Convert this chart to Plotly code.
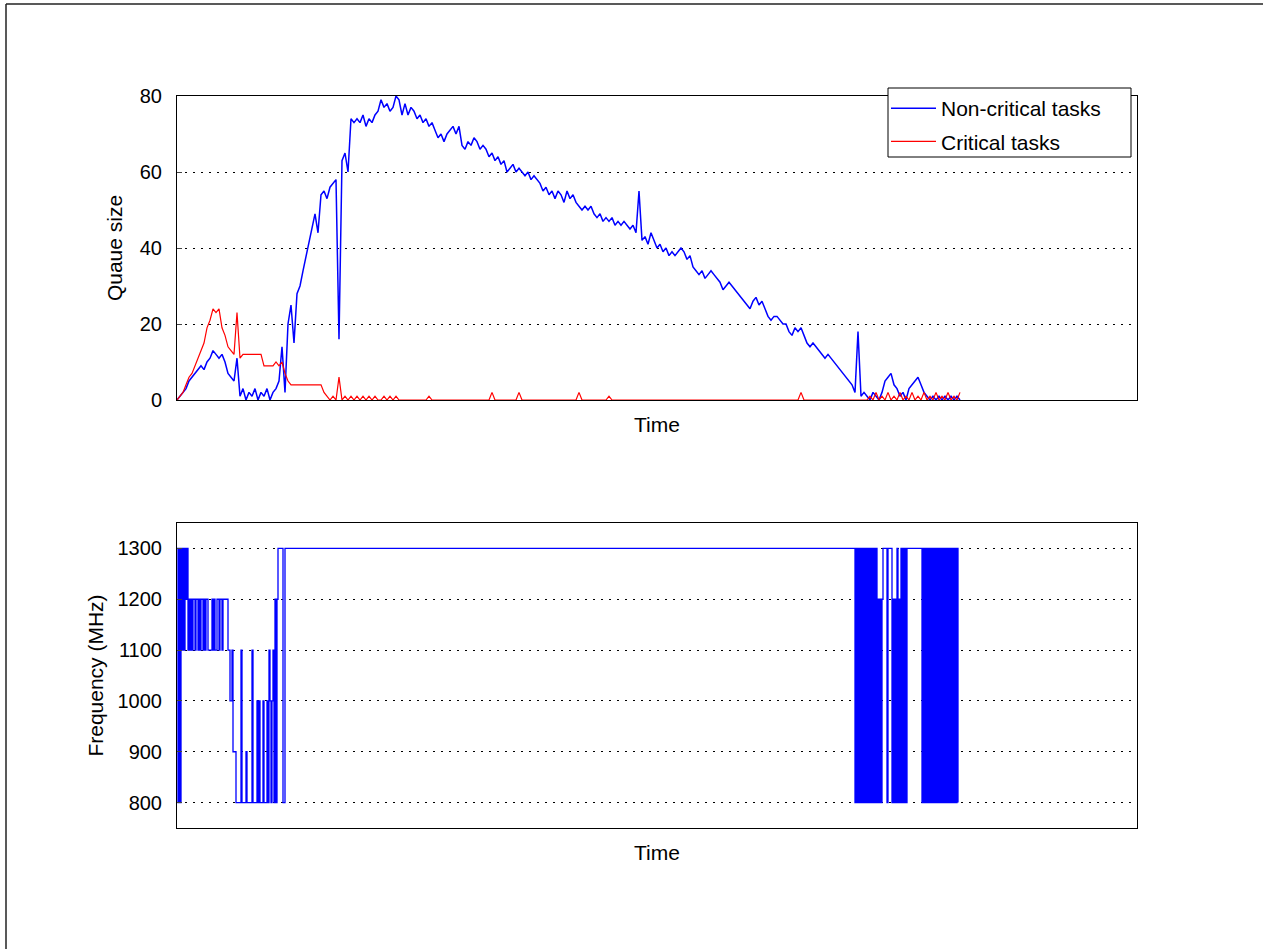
import numpy as np
import plotly.graph_objects as go
from plotly.subplots import make_subplots

# ---------------- data ----------------
# queue sizes sampled on a regular time grid (sample step in time units)
SAMPLE_STEP = 3
non_critical = [
    0, 1, 2, 3, 5, 6, 7, 8, 9, 8,
    10, 11, 13, 12, 11, 12, 10, 7, 6, 5,
    11, 1, 3, 0, 2, 1, 3, 0, 2, 1,
    3, 0, 2, 3, 5, 14, 2, 20, 25, 15,
    28, 30, 34, 38, 42, 46, 49, 44, 54, 55,
    53, 56, 57, 58, 16, 63, 65, 60, 74, 73,
    74, 73, 75, 72, 74, 73, 75, 76, 79, 77,
    78, 76, 77, 80, 79, 75, 78, 75, 77, 76,
    74, 75, 73, 74, 72, 73, 71, 69, 70, 68,
    70, 71, 72, 70, 72, 67, 66, 68, 67, 69,
    68, 66, 67, 66, 64, 65, 63, 64, 62, 63,
    60, 61, 62, 60, 61, 60, 59, 60, 58, 59,
    58, 57, 55, 56, 54, 55, 53, 55, 54, 52,
    55, 53, 54, 52, 51, 50, 51, 50, 51, 49,
    48, 49, 47, 48, 47, 48, 46, 47, 46, 47,
    46, 45, 46, 44, 55, 42, 43, 41, 44, 42,
    40, 41, 39, 40, 38, 39, 38, 39, 40, 39,
    37, 38, 35, 34, 33, 34, 32, 33, 34, 33,
    32, 31, 29, 30, 31, 30, 29, 28, 27, 26,
    25, 24, 26, 27, 25, 26, 24, 22, 21, 22,
    22, 21, 20, 20, 18, 17, 19, 18, 19, 17,
    15, 14, 15, 14, 13, 12, 11, 12, 11, 10,
    9, 8, 7, 6, 5, 4, 2, 18, 1, 2,
    1, 0, 2, 1, 0, 2, 5, 6, 7, 4,
    3, 1, 2, 0, 3, 4, 5, 6, 4, 2,
    1, 0, 1, 0, 1, 0, 1, 0, 1, 0,
    1, 0,
]
critical = [
    0, 1, 2, 4, 6, 7, 9, 11, 13, 15,
    19, 21, 24, 23, 24, 19, 17, 14, 13, 12,
    23, 11, 12, 12, 12, 12, 12, 12, 12, 9,
    9, 9, 9, 10, 9, 10, 7, 5, 4, 4,
    4, 4, 4, 4, 4, 4, 4, 4, 4, 2,
    1, 0, 1, 0, 6, 0, 1, 0, 1, 0,
    1, 0, 1, 0, 1, 0, 1, 0, 0, 1,
    0, 1, 0, 1, 0, 0, 0, 0, 0, 0,
    0, 0, 0, 0, 1, 0, 0, 0, 0, 0,
    0, 0, 0, 0, 0, 0, 0, 0, 0, 0,
    0, 0, 0, 0, 0, 2, 0, 0, 0, 0,
    0, 0, 0, 0, 2, 0, 0, 0, 0, 0,
    0, 0, 0, 0, 0, 0, 0, 0, 0, 0,
    0, 0, 0, 0, 2, 0, 0, 0, 0, 0,
    0, 0, 0, 0, 1, 0, 0, 0, 0, 0,
    0, 0, 0, 0, 0, 0, 0, 0, 0, 0,
    0, 0, 0, 0, 0, 0, 0, 0, 0, 0,
    0, 0, 0, 0, 0, 0, 0, 0, 0, 0,
    0, 0, 0, 0, 0, 0, 0, 0, 0, 0,
    0, 0, 0, 0, 0, 0, 0, 0, 0, 0,
    0, 0, 0, 0, 0, 0, 0, 0, 2, 0,
    0, 0, 0, 0, 0, 0, 0, 0, 0, 0,
    0, 0, 0, 0, 0, 0, 0, 0, 0, 0,
    0, 1, 0, 2, 0, 1, 0, 2, 0, 1,
    0, 2, 0, 1, 0, 2, 0, 1, 0, 2,
    0, 1, 0, 2, 0, 1, 0, 2, 0, 1,
    0, 2,
]

# frequency changes: time of change and new frequency (MHz)
freq_time = [
    0, 1, 2, 3, 4, 5, 6, 7, 8, 9, 10, 11, 12, 13, 14, 15, 16, 18, 19, 21,
    22, 23, 24, 26, 27, 28, 29, 31, 35, 36, 37, 38, 40, 42, 43, 45, 46, 51, 53, 55,
    56, 59, 64, 65, 69, 70, 75, 76, 80, 81, 82, 83, 86, 87, 90, 91, 92, 93, 94, 95,
    96, 97, 98, 99, 100, 101, 106, 108,
    678, 679, 680, 681, 682, 683, 684, 685, 686, 687, 688, 689, 690, 691, 692, 693,
    694, 695, 696, 697, 698, 699, 700, 701, 702, 703, 704, 705, 706, 710, 711,
    715, 716, 717, 718, 719, 720, 721, 722, 723, 724, 725, 726, 727, 728, 729, 730,
    745, 746, 747, 748, 749, 750, 751, 752, 753, 754, 755, 756, 757, 758, 759, 760,
    761, 762, 763, 764, 765, 766, 767, 768, 769, 770, 771, 772, 773, 774, 775, 776,
    777, 778, 779, 780, 781,
]
freq_mhz = [
    1300, 800, 1300, 800, 1300, 1100, 1300, 1100, 1300, 1200, 1300, 1100, 1200, 1100, 1200, 1100, 1200, 1100, 1200, 1100,
    1200, 1100, 1200, 1100, 1200, 1100, 1200, 1100, 1200, 1100, 1200, 1100, 1200, 1100, 1200, 1100, 1200, 1100, 1000, 1100,
    900, 800, 1100, 800, 900, 800, 1100, 800, 1000, 800, 1000, 800, 1000, 800, 1000, 800, 1100, 1000, 800, 1000,
    1100, 800, 1200, 800, 1200, 1300, 800, 1300,
    800, 1300, 800, 1300, 800, 1300, 800, 1300, 800, 1300, 800, 1300, 800, 1300, 800, 1300,
    800, 1300, 800, 1300, 800, 1300, 800, 1200, 800, 1200, 800, 1200, 1300, 800, 1300,
    800, 1200, 800, 1200, 800, 1300, 800, 1200, 800, 1300, 800, 1300, 800, 1300, 800, 1300,
    800, 1300, 800, 1300, 800, 1300, 800, 1300, 800, 1300, 800, 1300, 800, 1300, 800, 1300,
    800, 1300, 800, 1300, 800, 1300, 800, 1300, 800, 1300, 800, 1300, 800, 1300, 800, 1300,
    800, 1300, 800, 1300, 800,
]

queue_ticks = [0, 20, 40, 60, 80]
freq_ticks = [800, 900, 1000, 1100, 1200, 1300]
TIME_MAX = 960

time_q = np.arange(len(non_critical)) * SAMPLE_STEP

# ---------------- layout geometry (pixels -> paper) ----------------
W, H = 1263, 949
def px_x(p):
    return p / W
def px_y(p):
    return 1 - p / H

fig = make_subplots(rows=2, cols=1)

fig.add_trace(go.Scatter(x=time_q, y=non_critical, mode="lines", name="Non-critical tasks",
                         legendgroup="a", line=dict(color="#0000ff", width=1.5)), row=1, col=1)
fig.add_trace(go.Scatter(x=time_q, y=critical, mode="lines", name="Critical tasks",
                         legendgroup="b", line=dict(color="#ff0000", width=1.2)), row=1, col=1)
fig.add_trace(go.Scatter(x=freq_time, y=freq_mhz, mode="lines", showlegend=False,
                         line=dict(color="#0000ff", width=1.3, shape="hv")), row=2, col=1)

FONT = "Liberation Sans, Arial, Helvetica, sans-serif"
axis_common = dict(showline=True, linecolor="black", linewidth=1, mirror=True,
                   zeroline=False, automargin=False)

fig.update_xaxes(range=[0, TIME_MAX], showticklabels=False, ticks="", showgrid=False,
                 domain=[px_x(177), px_x(1137)], **axis_common)
fig.update_xaxes(title=dict(text="Time", font=dict(size=21, color="black"), standoff=17), row=1, col=1)
fig.update_xaxes(title=dict(text="Time", font=dict(size=21, color="black"), standoff=17), row=2, col=1)

ydash = "2px,6px"
fig.update_yaxes(range=[0, 80], tickvals=queue_ticks, ticks="inside", ticklen=5,
                 showgrid=True, gridcolor="black", gridwidth=1, griddash=ydash,
                 domain=[px_y(400), px_y(96)], ticklabelstandoff=10,
                 title=dict(text="Quaue size", font=dict(size=21, color="black"), standoff=11),
                 tickfont=dict(size=20, color="black"), **axis_common, row=1, col=1)
fig.update_yaxes(range=[750, 1350], tickvals=freq_ticks, ticks="inside", ticklen=5,
                 showgrid=True, gridcolor="black", gridwidth=1, griddash=ydash,
                 domain=[px_y(828), px_y(523)], ticklabelstandoff=10,
                 title=dict(text="Frequency (MHz)", font=dict(size=21, color="black"), standoff=8),
                 tickfont=dict(size=20, color="black"), **axis_common, row=2, col=1)

fig.update_layout(
    width=W, height=H,
    margin=dict(l=0, r=0, t=0, b=0, autoexpand=False),
    paper_bgcolor="white", plot_bgcolor="white",
    font=dict(family=FONT, color="black", size=20),
    showlegend=True,
    legend=dict(x=px_x(886), y=px_y(88), xanchor="left", yanchor="top",
                bgcolor="rgba(0,0,0,0)", borderwidth=0,
                font=dict(size=21, color="black"), itemwidth=45,
                tracegroupgap=3),
    shapes=[
        dict(type="line", xref="paper", yref="paper", x0=px_x(6), x1=1.0, y0=px_y(4), y1=px_y(4),
             line=dict(color="#222222", width=1.5)),
        dict(type="line", xref="paper", yref="paper", x0=px_x(6), x1=px_x(6), y0=0, y1=px_y(4),
             line=dict(color="#222222", width=1.5)),
        dict(type="rect", xref="paper", yref="paper", layer="above",
             x0=px_x(888), x1=px_x(1131), y0=px_y(157), y1=px_y(88),
             fillcolor="white", line=dict(color="black", width=1)),
    ],
)

fig.write_html("out.html")
